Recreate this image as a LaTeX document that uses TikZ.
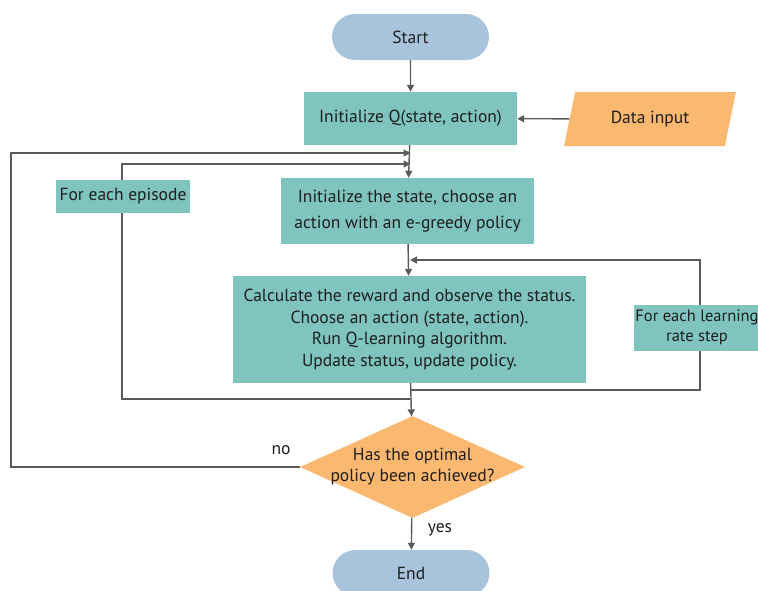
\documentclass[tikz,border=0pt]{standalone}
\usepackage{fontspec}
\setmainfont{PT Sans}
\usetikzlibrary{shapes.geometric,shapes.misc,arrows.meta}
\definecolor{teal1}{RGB}{127,196,190}
\definecolor{orange1}{RGB}{251,184,112}
\definecolor{blue1}{RGB}{168,196,220}
\definecolor{line1}{RGB}{90,90,90}
\definecolor{text1}{RGB}{30,30,30}
\begin{document}
\begin{tikzpicture}[x=1pt,y=-1pt,
  every node/.style={text=text1,font=\fontsize{17.5}{21}\selectfont},
  terminal/.style={rounded rectangle,fill=blue1,minimum width=157pt,minimum height=46pt,inner sep=0pt},
  procbox/.style={rectangle,fill=teal1,align=center,inner sep=0pt},
  labelbox/.style={rectangle,fill=teal1,align=center,inner sep=0pt},
  iobox/.style={trapezium,trapezium left angle=70,trapezium right angle=110,fill=orange1,minimum width=172pt,minimum height=54pt,inner sep=0pt,trapezium stretches=true},
  decision/.style={diamond,fill=orange1,minimum width=225pt,minimum height=102pt,inner sep=0pt},
  flow/.style={draw=line1,line width=1.4pt,-{Triangle[length=7pt,width=7pt]}},
  plain/.style={draw=line1,line width=1.4pt}]
\useasboundingbox (0,0) rectangle (758,590);

% terminals and steps
\node[terminal] (start) at (410.5,37) {Start};
\node[procbox,minimum width=213pt,minimum height=53pt] (initq) at (410.5,118.5) {Initialize Q(state, action)};
\node[iobox] (data) at (650,119) {Data input};
\node[procbox,minimum width=253pt,minimum height=66pt,font=\fontsize{17.5}{26}\selectfont] (inits) at (407.5,211) {Initialize the state, choose an\\action with an e-greedy policy};
\node[procbox,minimum width=353pt,minimum height=107pt,font=\fontsize{17.5}{21.7}\selectfont] (calc) at (409.5,329.5) {Calculate the reward and observe the status.\\Choose an action (state, action).\\Run Q-learning algorithm.\\Update status, update policy.};
\node[decision] (dec) at (412.5,467) {};
\node[align=center,font=\fontsize{17.5}{21}\selectfont] (dectext) at (dec.center) {Has the optimal\\policy been achieved?};
\node[terminal] (end) at (411,573) {End};

% loop corners
\coordinate (outerL) at (11,153);
\coordinate (outerB) at (11,467);
\coordinate (outerT) at (410.5,153);
\coordinate (innerT) at (410.5,164);
\coordinate (innerL) at (122,164);
\coordinate (innerB) at (122,399);
\coordinate (innerR) at (411,399);
\coordinate (rateT) at (700,260);
\coordinate (rateB) at (700,390);
\coordinate (rateR) at (411,390);
\coordinate (rateIn) at (410,260);

% main chain
\draw[flow] (start) -- (initq);
\draw[flow] (data) -- (initq);
\draw[flow] (initq) -- (inits);
\draw[flow] (inits) -- (calc);
\draw[flow] (calc) -- (dec);
\draw[flow] (dec) -- (end);

% outer loop: policy not yet optimal
\draw[flow] (dec.west) -- (outerB) -- (outerL) -- (outerT);
% per-episode loop
\draw[flow] (innerR) -- (innerB) -- (innerL) -- (innerT);
% per-step loop
\draw[flow] (rateR) -- (rateB) -- (rateT) -- (rateIn);

% loop labels drawn over their lines
\node[labelbox,minimum width=134pt,minimum height=33pt] (ep) at (123,196.5) {For each episode};
\node[labelbox,minimum width=126pt,minimum height=46pt,font=\fontsize{16.5}{20}\selectfont] (rate) at (697,327.5) {For each learning\\rate step};

\node (no) at (281,450) {no};
\node (yes) at (440,530) {yes};
\end{tikzpicture}
\end{document}
